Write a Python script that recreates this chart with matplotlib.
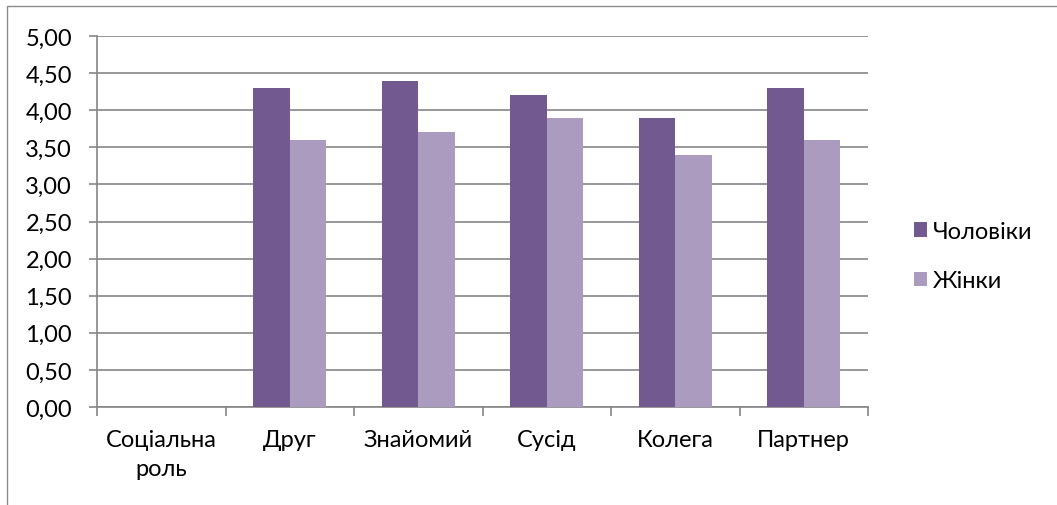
import matplotlib.pyplot as plt
import numpy as np
from matplotlib.patches import Rectangle

categories = ['Соціальна\nроль', 'Друг', 'Знайомий', 'Сусід', 'Колега', 'Партнер']
men = [0, 4.3, 4.4, 4.2, 3.9, 4.3]
women = [0, 3.6, 3.7, 3.9, 3.4, 3.6]
series_names = ['Чоловіки', 'Жінки']
yticks = [0, 0.5, 1, 1.5, 2, 2.5, 3, 3.5, 4, 4.5, 5]

plt.rcParams['font.family'] = ['Lato', 'DejaVu Sans']
FS = 17

W, H = 1057, 506
fig = plt.figure(figsize=(W / 100, H / 100), dpi=100)
ax = fig.add_axes([97 / W, 1 - 408 / H, (868 - 97) / W, (408 - 37) / H])

# outer chart frame (cropped at right and bottom)
fig.patches.append(Rectangle((7 / W, -0.1), 1.2, 1 - 7 / H + 0.1, transform=fig.transFigure,
                             fill=False, edgecolor='#8c8c8c', linewidth=1.0))

x = np.arange(len(categories))
w = 1 / 3.5
ax.bar(x - w / 2, men, width=w, color='#72598F', label=series_names[0], zorder=3)
ax.bar(x + w / 2, women, width=w, color='#AA9BBF', label=series_names[1], zorder=3)

ax.set_xlim(-0.5, len(categories) - 0.5)
ax.set_ylim(0, 5)
ax.set_yticks(yticks)
ax.set_yticklabels([f'{v:.2f}'.replace('.', ',') for v in yticks], fontsize=FS)
ax.yaxis.grid(True, color='#868686', linewidth=1.2, zorder=0)
ax.set_axisbelow(True)

ax.set_xticks(np.arange(len(categories) + 1) - 0.5)
ax.set_xticklabels([])
ax.set_xticks(x, minor=True)
ax.set_xticklabels(categories, minor=True, fontsize=FS, linespacing=1.45)
ax.tick_params(axis='x', which='major', length=6.5, width=1.2, color='#868686', direction='out')
ax.tick_params(axis='x', which='minor', length=0, pad=16)
ax.tick_params(axis='y', length=6, width=1.2, color='#868686', pad=12)

for s in ['top', 'right']:
    ax.spines[s].set_visible(False)
for s in ['left', 'bottom']:
    ax.spines[s].set_color('#868686')
    ax.spines[s].set_linewidth(1.2)

ax.legend(loc='center left', bbox_to_anchor=(902 / W, 1 - 257 / H), bbox_transform=fig.transFigure,
          frameon=False, fontsize=FS, handlelength=0.55, handleheight=0.55,
          handletextpad=0.25, labelspacing=1.2, borderpad=0)

fig.savefig('out.png', dpi=100)
